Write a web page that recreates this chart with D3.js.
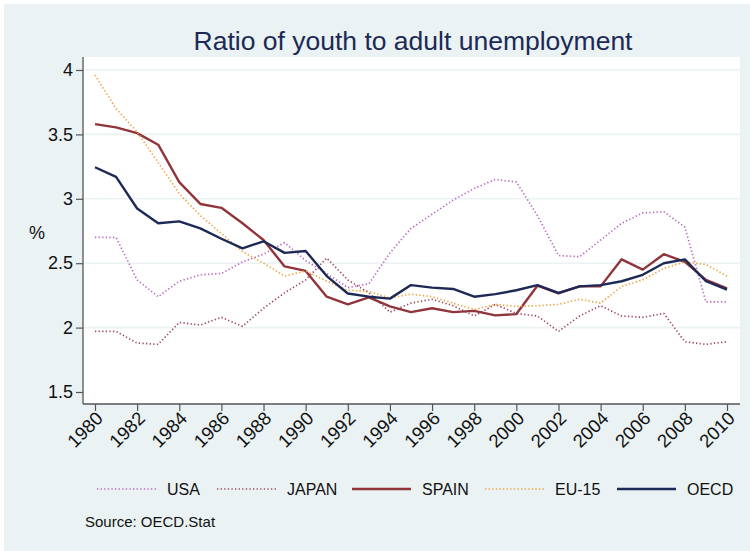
<!DOCTYPE html>
<html>
<head>
<meta charset="utf-8">
<script src="https://cdn.jsdelivr.net/npm/d3@7/dist/d3.min.js"></script>
<style>
html,body{margin:0;padding:0;background:#fff;}
svg{display:block;}
</style>
</head>
<body>
<svg id="chart" width="750" height="551"></svg>
<script>
const years = d3.range(1980, 2011);
const usa   = [2.70,2.70,2.37,2.24,2.36,2.41,2.42,2.51,2.57,2.66,2.52,2.42,2.31,2.34,2.58,2.77,2.88,2.99,3.08,3.15,3.13,2.87,2.56,2.55,2.68,2.81,2.89,2.90,2.78,2.20,2.20];
const japan = [1.97,1.97,1.88,1.87,2.04,2.02,2.08,2.01,2.15,2.27,2.37,2.54,2.37,2.27,2.12,2.19,2.22,2.17,2.09,2.18,2.11,2.09,1.97,2.09,2.17,2.09,2.08,2.11,1.89,1.87,1.89];
const spain = [3.58,3.555,3.51,3.42,3.13,2.96,2.93,2.81,2.68,2.475,2.44,2.24,2.18,2.235,2.165,2.12,2.15,2.12,2.13,2.095,2.105,2.325,2.265,2.32,2.32,2.53,2.45,2.57,2.51,2.37,2.305];
const eu15  = [3.96,3.70,3.52,3.28,3.04,2.87,2.73,2.59,2.50,2.40,2.44,2.36,2.29,2.28,2.23,2.26,2.24,2.19,2.14,2.18,2.165,2.17,2.18,2.22,2.19,2.32,2.37,2.46,2.51,2.49,2.40];
const oecd  = [3.245,3.17,2.925,2.81,2.825,2.77,2.69,2.615,2.67,2.58,2.595,2.40,2.265,2.24,2.225,2.33,2.31,2.30,2.24,2.26,2.29,2.33,2.27,2.32,2.33,2.36,2.41,2.50,2.53,2.36,2.295];
const seriesNames = ["USA","JAPAN","SPAIN","EU-15","OECD"];
const yTicks = [1.5,2,2.5,3,3.5,4];
const xTicks = d3.range(1980, 2011, 2);

const series = [
  {name:"USA",   values:usa,   color:"#bb66c2", dash:"1.3,2.3", width:1.7},
  {name:"JAPAN", values:japan, color:"#9e4a60", dash:"1.3,2.3", width:1.7},
  {name:"SPAIN", values:spain, color:"#90353b", dash:null,      width:2.4},
  {name:"EU-15", values:eu15,  color:"#f0a23c", dash:"1.3,2.3", width:1.7},
  {name:"OECD",  values:oecd,  color:"#1c2a55", dash:null,      width:2.4}
];

const svg = d3.select("#chart");
const narrow = "'Liberation Sans Narrow','Arial Narrow','Liberation Sans',Arial,sans-serif";

svg.append("rect").attr("x",4).attr("y",4).attr("width",746).attr("height",547).attr("fill","#eaf2f3");

const plot = {l:83, r:740, t:57, b:404};
svg.append("rect").attr("x",plot.l).attr("y",plot.t).attr("width",plot.r-plot.l).attr("height",plot.b-plot.t).attr("fill","#ffffff");

const x = d3.scaleLinear().domain([1980,2010]).range([95,727]);
const y = d3.scaleLinear().domain([1.5,4]).range([392,70]);

// gridlines
svg.append("g").selectAll("line").data(yTicks.filter(d=>d>1.5)).join("line")
  .attr("x1",plot.l).attr("x2",plot.r)
  .attr("y1",d=>y(d)).attr("y2",d=>y(d))
  .attr("stroke","#eaf2f3").attr("stroke-width",1.6);

// lines
const line = d3.line().x((d,i)=>x(years[i])).y(d=>y(d));
svg.append("g").selectAll("path").data(series).join("path")
  .attr("d",d=>line(d.values))
  .attr("fill","none")
  .attr("stroke",d=>d.color)
  .attr("stroke-width",d=>d.width)
  .attr("stroke-dasharray",d=>d.dash)
  .attr("stroke-linejoin","round");

// y axis
const yAxis = svg.append("g").attr("transform",`translate(${plot.l},0)`)
  .call(d3.axisLeft(y).tickValues(yTicks).tickFormat(d3.format("")).tickSize(7).tickPadding(3));
yAxis.select(".domain").attr("d",`M0,${plot.t}V${plot.b}`).attr("stroke","#555").attr("stroke-width",1.3);
yAxis.selectAll(".tick line").attr("stroke","#555").attr("stroke-width",1.2);
yAxis.selectAll(".tick text").attr("font-family",narrow).attr("font-size",18).attr("fill","#111");

// x axis
const xAxis = svg.append("g").attr("transform",`translate(0,${plot.b})`)
  .call(d3.axisBottom(x).tickValues(xTicks).tickFormat(d3.format("d")).tickSize(7));
xAxis.select(".domain").attr("d",`M${plot.l},0H${plot.r}`).attr("stroke","#555").attr("stroke-width",1.3);
xAxis.selectAll(".tick line").attr("stroke","#555").attr("stroke-width",1.2);
xAxis.selectAll(".tick text")
  .attr("font-family",narrow).attr("font-size",18.5).attr("fill","#111")
  .attr("text-anchor","end")
  .attr("transform","translate(4,11) rotate(-45)")
  .attr("x",0).attr("y",0).attr("dy","0.35em");

// y label
svg.append("text").attr("x",37).attr("y",239).attr("text-anchor","middle")
  .attr("font-family",narrow).attr("font-size",18).attr("fill","#111").text("%");

// title
svg.append("text").attr("x",413).attr("y",50).attr("text-anchor","middle")
  .attr("font-family",narrow).attr("font-size",26.5).attr("fill","#1c2a55")
  .text("Ratio of youth to adult unemployment");

// legend
const legX = [97,217,352,485,617];
const leg = svg.append("g").selectAll("g").data(series).join("g")
  .attr("transform",(d,i)=>`translate(${legX[i]},489)`);
leg.append("line").attr("x1",0).attr("x2",59).attr("y1",0).attr("y2",0)
  .attr("stroke",d=>d.color).attr("stroke-width",d=>d.width)
  .attr("stroke-dasharray",d=>d.dash);
leg.append("text").attr("x",70).attr("y",6)
  .attr("font-family",narrow).attr("font-size",16).attr("fill","#111")
  .text((d,i)=>seriesNames[i]);

svg.append("text").attr("x",85).attr("y",527)
  .attr("font-family",narrow).attr("font-size",15).attr("fill","#111")
  .text("Source: OECD.Stat");
</script>
</body>
</html>
